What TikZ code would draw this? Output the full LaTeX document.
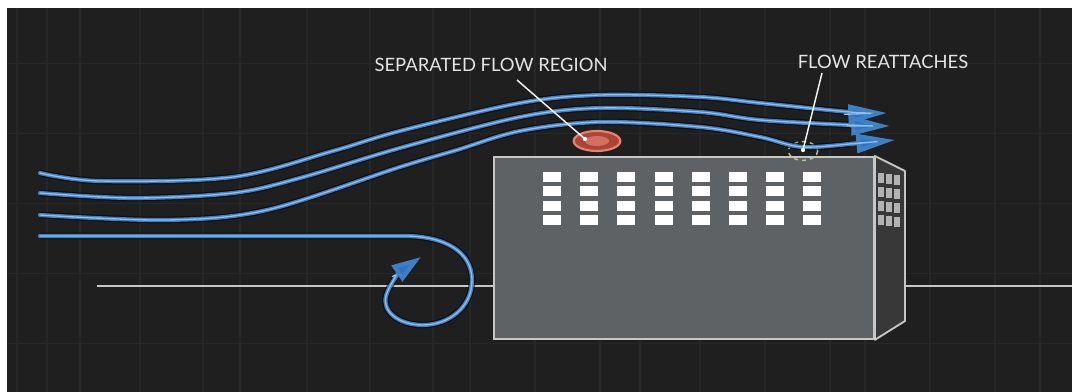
\documentclass[tikz,border=0pt]{standalone}
\usepackage{fontspec}
\setmainfont{Lato}
\usetikzlibrary{arrows.meta,shapes.geometric}

\definecolor{bgdark}{HTML}{1F1F1F}
\definecolor{gridline}{HTML}{272727}
\definecolor{flowblue}{HTML}{3F80C4}
\definecolor{flowlight}{HTML}{92BDE4}
\definecolor{tipblue}{HTML}{2F74C2}
\definecolor{wallgray}{HTML}{5F6264}
\definecolor{sidegray}{HTML}{383838}
\definecolor{edgegray}{HTML}{C6C6C6}
\definecolor{labelgray}{HTML}{E4E4E4}
\definecolor{sepred}{HTML}{B04434}
\definecolor{seprim}{HTML}{E08474}
\definecolor{reattgreen}{HTML}{B0C884}

\tikzset{
  flowshadow/.style={draw=black, line width=5pt, opacity=0.55, line cap=butt},
  flowline/.style={draw=flowblue, line width=3.1pt, line cap=round},
  flowcore/.style={draw=flowlight, line width=1pt, line cap=round},
  bigtip/.style={-{Triangle[length=29pt,width=14pt,fill=tipblue]}},
  looptip/.style={-{Triangle[length=22pt,width=14pt,fill=tipblue]}},
  frontface/.style={rectangle, draw=edgegray, fill=wallgray, line width=1.4pt, inner sep=0pt},
  sideface/.style={draw=edgegray, fill=sidegray, line width=1.4pt, line join=round},
  win/.style={fill=white},
  sidewin/.style={fill=gray!60},
  ground/.style={draw=edgegray, line width=1.4pt},
  callout/.style={text=labelgray, inner sep=0pt, font=\fontsize{13.8}{16}\selectfont},
  leader/.style={draw=white!92!gray, line width=1.1pt},
  leaderdot/.style={fill=white, draw=none},
}

\begin{document}
\begin{tikzpicture}[x=0.75pt, y=-0.75pt]
  % page and dark backdrop
  \useasboundingbox (0,0) rectangle (1072,392);
  \fill[white] (0,0) rectangle (1072,392);
  \fill[bgdark] (7,8) rectangle (1072,392);

  % faint backdrop grid
  \foreach \gx in {17,47,80,140,203,240,307,370,433,470,535,600,640,700,765,830,865,930,995,1040}
    \draw[gridline, line width=0.8pt] (\gx,8) -- (\gx,392);
  \foreach \gy in {63,133,203,273,343}
    \draw[gridline, line width=0.6pt] (7,\gy) -- (1072,\gy);

  % ground line
  \coordinate (gl) at (97,286);
  \coordinate (gr) at (1072,286);

  % building: front face
  \node[frontface, minimum width=285pt, minimum height=136.5pt, anchor=north west] (front) at (493,156) {};
  % building: side face
  \coordinate (sideNE) at (905,171);
  \coordinate (sideSE) at (905,321);
  \draw[sideface] (front.north east) -- (sideNE) -- (sideSE) -- (front.south east) -- cycle;
  \draw[ground] (gl) -- (gl -| front.west);
  \draw[ground] (gr) -- (gr -| sideNE);

  % front windows, 8 columns by 4 rows
  \foreach \i in {0,...,7}
    \foreach \j in {0,...,3}
      \fill[win] ({543+37.2*\i},{172+14.5*\j}) rectangle ++(18,10);
  % side windows
  \foreach \i in {0,1,2}
    \foreach \j in {0,...,3}
      \fill[sidewin] ({877.5+8.3*\i},{173+14*\j+1.2*\i}) rectangle ++(6,10);

  % separated flow bubble and reattachment marker
  \node[ellipse, fill=sepred, draw=seprim, line width=1.6pt, minimum width=35pt, minimum height=15pt, inner sep=0pt] (sep) at (597,141) {};
  \fill[seprim!70!sepred] (597,141) ellipse [x radius=12, y radius=5];
  \node[ellipse, draw=reattgreen, dashed, line width=1.1pt, minimum width=22pt, minimum height=14pt, inner sep=0pt] (reatt) at (803,151) {};

  % streamlines (the shadow stops short of the arrowhead)
  \def\lineA{(40,173) (100,181) (233,177) (333,151) (400,131) (520,103) (600,95) (700,97) (760,103) (850,112) (887,113)}
  \def\lineB{(40,193) (133,198) (233,193) (300,178) (400,148) (520,117) (600,108) (700,112) (760,120) (850,125) (890,126)}
  \def\lineC{(40,215) (167,220) (267,210) (400,167) (457,150) (520,131) (600,122) (700,127) (760,137) (803,147) (860,143) (895,140)}
  \def\shadowA{(40,173) (100,181) (233,177) (333,151) (400,131) (520,103) (600,95) (700,97) (760,103) (850,112)}
  \def\shadowB{(40,193) (133,198) (233,193) (300,178) (400,148) (520,117) (600,108) (700,112) (760,120) (850,125)}
  \def\shadowC{(40,215) (167,220) (267,210) (400,167) (457,150) (520,131) (600,122) (700,127) (760,137) (803,147) (850,144)}
  \foreach \pts in {\shadowA,\shadowB,\shadowC}
    \draw[flowshadow] plot[smooth, tension=0.55] coordinates {\pts};
  \foreach \pts in {\lineA,\lineB,\lineC}{
    \draw[flowline, bigtip] plot[smooth, tension=0.55] coordinates {\pts};
    \draw[flowcore, shorten >=32pt] plot[smooth, tension=0.55] coordinates {\pts};
  }

  % recirculating streamline in front of the building
  \coordinate (loopA) at (40,236);
  \coordinate (loopB) at (405,236);
  \coordinate (loopEnd) at (421,257);
  \def\looppath{(loopA) -- (loopB) .. controls (445,236) and (472,252) .. (472,280)
      .. controls (472,308) and (448,325) .. (423,325)
      .. controls (398,325) and (382,311) .. (386,296)
      .. controls (389,284) and (402,270) .. (loopEnd)}
  \draw[flowshadow, shorten >=20pt] \looppath;
  \draw[flowline, looptip] \looppath;
  \draw[flowcore, shorten >=26pt] \looppath;

  % callouts
  \node[callout] (sepLabel) at (491,65) {SEPARATED FLOW REGION};
  \node[callout] (reattLabel) at (883,62) {FLOW REATTACHES};
  \coordinate (sepFrom) at (517,80);
  \coordinate (sepTo) at (585,139);
  \coordinate (reattFrom) at (822,73);
  \coordinate (reattTo) at (803,150);
  \draw[leader] (sepFrom) -- (sepTo);
  \fill[leaderdot] (sepTo) circle [radius=1.6pt];
  \draw[leader] (reattFrom) -- (reattTo);
  \fill[leaderdot] (reattTo) circle [radius=1.6pt];
\end{tikzpicture}
\end{document}
